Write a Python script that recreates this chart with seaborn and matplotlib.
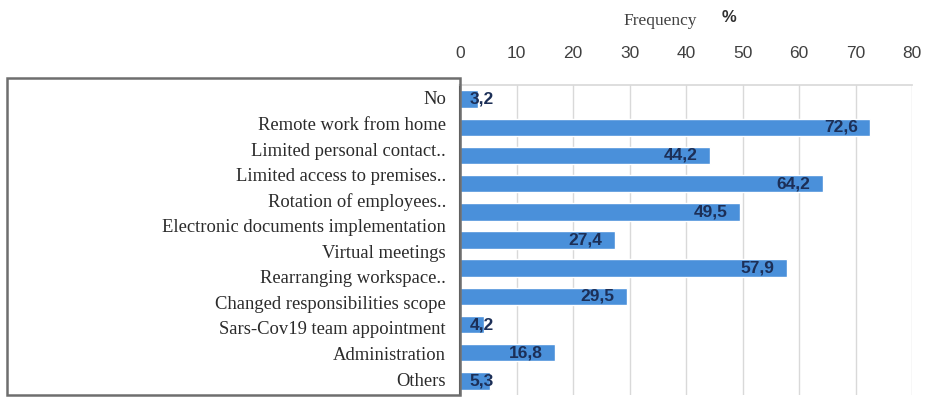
import matplotlib
matplotlib.use("Agg")
import matplotlib.pyplot as plt
from matplotlib.patches import Rectangle
import seaborn as sns
import pandas as pd

# Measures listed in the text panel (12 lines)
measures = [
    "No",
    "Remote work from home",
    "Limited personal contact..",
    "Limited access to premises..",
    "Rotation of employees..",
    "Electronic documents implementation",
    "Virtual meetings",
    "Rearranging workspace..",
    "Changed responsibilities scope",
    "Sars-Cov19 team appointment",
    "Administration",
    "Others",
]

# Bar values (percent of respondents), top to bottom
percent = [3.2, 72.6, 44.2, 64.2, 49.5, 27.4, 57.9, 29.5, 4.2, 16.8, 5.3]
value_labels = ["3,2", "72,6", "44,2", "64,2", "49,5", "27,4", "57,9", "29,5", "4,2", "16,8", "5,3"]
x_ticks = [0, 10, 20, 30, 40, 50, 60, 70, 80]

df = pd.DataFrame({"row": [str(i) for i in range(len(percent))], "percent": percent})

sns.set_theme(style="white")
plt.rcParams["font.family"] = ["Liberation Sans", "DejaVu Sans"]

W, H = 928, 397
fig = plt.figure(figsize=(W / 100, H / 100), dpi=100)

# Framed panel holding the measure names
frame = Rectangle((7 / W, 1 - 395 / H), (460 - 7) / W, (395 - 78) / H,
                  transform=fig.transFigure, fill=False,
                  edgecolor="#6e6e6e", linewidth=1.8, zorder=1)
fig.add_artist(frame)

top_y, bottom_y = 100, 381
step = (bottom_y - top_y) / (len(measures) - 1)
for i, name in enumerate(measures):
    y = top_y + i * step
    fig.text(446 / W, 1 - y / H, name, ha="right", va="center",
             fontsize=13.4, family=["Liberation Serif", "DejaVu Serif"],
             color="#2b2b2b")

ax = fig.add_axes([460 / W, 1 - 395 / H, (912 - 460) / W, (395 - 85) / H])
sns.barplot(data=df, x="percent", y="row", orient="h", color="#4A90DA",
            saturation=1, width=0.62, ax=ax, zorder=2)

for i, (v, lab) in enumerate(zip(percent, value_labels)):
    if v > 10:
        ax.text(v - 2.2, i, lab, ha="right", va="center", fontsize=12.5,
                color="#1c2f57", fontweight="bold", zorder=3)
    else:
        ax.text(1.7, i, lab, ha="left", va="center", fontsize=12.5,
                color="#1c2f57", fontweight="bold", zorder=3)

ax.set_xlim(0, 80)
ax.set_ylim(len(percent) - 0.5, -0.5)
ax.set_xticks(x_ticks)
ax.set_xticklabels([str(t) for t in x_ticks])
ax.xaxis.tick_top()
ax.tick_params(axis="x", length=0, pad=17, labelsize=12.5, labelcolor="#404040")
ax.set_yticks([])
ax.set_xlabel("")
ax.set_ylabel("")
ax.grid(axis="x", color="#d9d9d9", linewidth=1, zorder=0)
ax.set_axisbelow(True)
for side in ["right", "bottom"]:
    ax.spines[side].set_visible(False)
ax.spines["top"].set_color("#d9d9d9")
ax.spines["left"].set_color("#3a3a3a")
ax.spines["left"].set_linewidth(1.5)

fig.text(660 / W, 1 - 21 / H, "Frequency", ha="center", va="center",
         fontsize=12.5, family=["Liberation Serif", "DejaVu Serif"], color="#404040")
fig.text(729 / W, 1 - 18 / H, "%", ha="center", va="center",
         fontsize=12, fontweight="bold", color="#303030")

fig.savefig("out.png", dpi=100)
